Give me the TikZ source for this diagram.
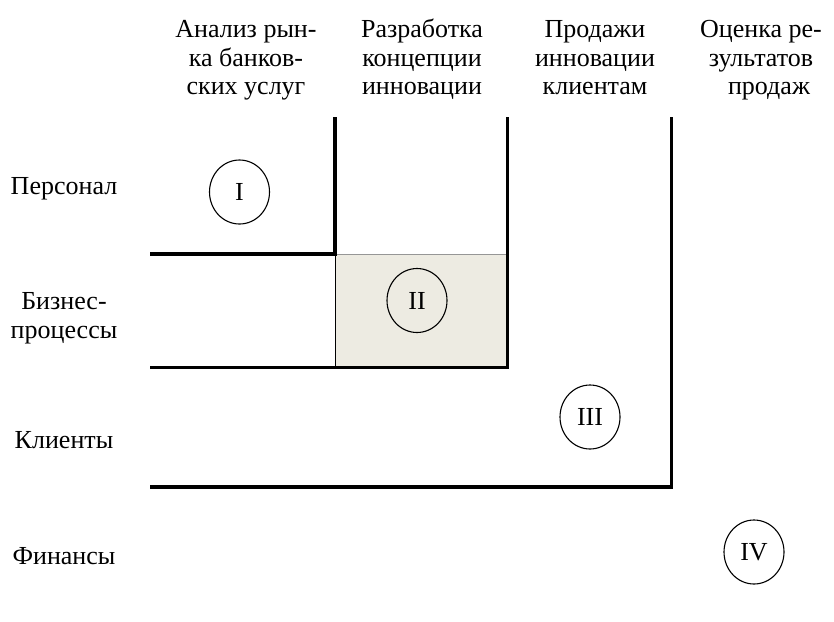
\documentclass[tikz,border=0pt]{standalone}
\usepackage{fontspec}
\setmainfont{Liberation Serif}
\usetikzlibrary{shapes.geometric}
\newcommand{\topstrut}{\rule{0pt}{20pt}}
\begin{document}
\begin{tikzpicture}[x=1pt,y=-1pt,
  txt/.style={inner sep=0pt,font=\fontsize{26}{28.8}\selectfont,align=center},
  thick line/.style={line width=3.4pt,line cap=rect},
  stage/.style={draw,line width=1.1pt,ellipse,minimum width=60pt,minimum height=64pt,inner sep=0pt,font=\fontsize{26}{28.8}\selectfont}]
\useasboundingbox (0,0) rectangle (834,621);
% shaded cell
\fill[fill={rgb,255:red,237;green,235;blue,226}] (335,254.5) rectangle (507,367);
\draw[line width=1pt,color={rgb,255:red,150;green,150;blue,150}] (335,254.5) -- (507,254.5);
\draw[line width=1pt] (335,254.5) -- (335,367);
% frame lines
\coordinate (v1t) at (335,119);
\coordinate (v1b) at (335,254);
\coordinate (h1l) at (152,254);
\draw[thick line] (v1t) -- (v1b) -- (h1l);
\coordinate (v2t) at (507.5,119);
\coordinate (v2b) at (507.5,367.5);
\coordinate (h2l) at (152,367.5);
\draw[thick line] (v2t) -- (v2b) -- (h2l);
\coordinate (v3t) at (671.5,119);
\coordinate (v3b) at (671.5,487);
\coordinate (h3l) at (152,487);
\draw[thick line] (v3t) -- (v3b) -- (h3l);
% headers
\node[txt,anchor=north] (c1) at (246,17) {\topstrut Анализ рын-\\ка банков-\\ских услуг};
\node[txt,anchor=north] (c2) at (422,17) {\topstrut Разработка\\концепции\\инновации};
\node[txt,anchor=north] (c3) at (595,17) {\topstrut Продажи\\инновации\\клиентам};
\node[txt,anchor=north] (c4) at (761,17) {\topstrut Оценка ре-\\зультатов\\\hspace*{16pt}продаж};
% rows
\node[txt,anchor=base] (r1) at (64,194) {Персонал};
\node[txt,anchor=north] (r2) at (64,289) {\topstrut Бизнес-\\процессы};
\node[txt,anchor=base] (r3) at (64,448) {Клиенты};
\node[txt,anchor=base] (r4) at (64,564) {Финансы};
% stages
\node[stage] (s1) at (239.5,192) {I};
\node[stage] (s2) at (417,300.5) {II};
\node[stage] (s3) at (590,417) {III};
\node[stage] (s4) at (754,552) {IV};
\end{tikzpicture}
\end{document}
